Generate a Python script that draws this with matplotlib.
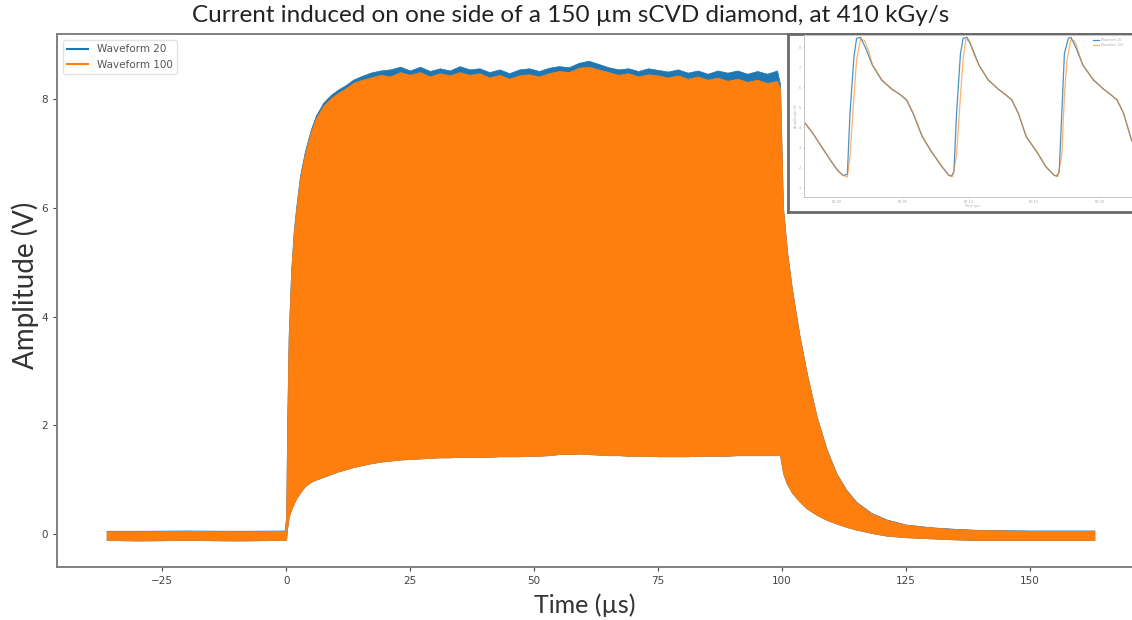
import numpy as np
import matplotlib
matplotlib.use('Agg')
import matplotlib.pyplot as plt
from matplotlib.lines import Line2D

# envelope of the two waveforms (time in us, amplitude in V)
t_env = [-36.2, -30, -20, -10, -0.3, 0.0, 0.2, 0.5, 1.0, 1.5, 2.0, 2.8, 3.8, 5.0, 6.0,
         7.5, 9.0, 10.5, 12.0, 13.5, 15, 17, 19, 21, 23, 25, 27, 29, 31, 33, 35, 37,
         39, 41, 43, 45, 47, 49, 51, 53, 55, 57, 59, 61, 63, 65, 67, 69, 71, 73, 75,
         77, 79, 81, 83, 85, 87, 89, 91, 93, 95, 97, 99, 99.6, 100.2, 101, 102, 103.5,
         105, 107, 109, 111, 113, 115, 118, 121, 125, 130, 135, 140, 150, 163]

wf100_upper = [0.05, 0.05, 0.06, 0.05, 0.06, 0.3, 2.0, 3.6, 4.8, 5.5, 5.95, 6.55, 7.0, 7.4, 7.65,
               7.88, 8.02, 8.12, 8.2, 8.3, 8.35, 8.4, 8.45, 8.42, 8.5, 8.45, 8.5, 8.42, 8.48, 8.44, 8.5, 8.45,
               8.48, 8.4, 8.45, 8.38, 8.44, 8.46, 8.42, 8.48, 8.52, 8.5, 8.58, 8.6, 8.55, 8.5, 8.45, 8.48, 8.42, 8.46, 8.44,
               8.4, 8.44, 8.38, 8.42, 8.36, 8.4, 8.34, 8.38, 8.32, 8.36, 8.3, 8.34, 8.2, 6.0, 5.2, 4.5, 3.65,
               2.95, 2.15, 1.55, 1.1, 0.8, 0.58, 0.38, 0.26, 0.17, 0.12, 0.09, 0.07, 0.06, 0.06]

wf20_upper = [0.06, 0.06, 0.065, 0.06, 0.065, 0.33, 2.05, 3.65, 4.85, 5.55, 6.0, 6.6, 7.05, 7.45, 7.7,
              7.94, 8.08, 8.18, 8.26, 8.36, 8.42, 8.49, 8.53, 8.55, 8.6, 8.53, 8.6, 8.52, 8.57, 8.53, 8.61, 8.55,
              8.57, 8.5, 8.55, 8.48, 8.55, 8.57, 8.52, 8.58, 8.61, 8.59, 8.67, 8.71, 8.65, 8.59, 8.55, 8.57, 8.52, 8.57, 8.54,
              8.51, 8.55, 8.49, 8.53, 8.47, 8.53, 8.49, 8.53, 8.47, 8.52, 8.47, 8.53, 8.28, 6.02, 5.22, 4.52, 3.67,
              2.96, 2.16, 1.56, 1.11, 0.81, 0.59, 0.39, 0.27, 0.175, 0.125, 0.095, 0.075, 0.065, 0.065]

lower = [-0.11, -0.12, -0.11, -0.12, -0.11, -0.1, 0.1, 0.3, 0.45, 0.55, 0.65, 0.76, 0.88, 0.96, 1.0,
         1.05, 1.1, 1.15, 1.19, 1.23, 1.26, 1.3, 1.33, 1.35, 1.37, 1.38, 1.39, 1.4, 1.41, 1.41, 1.42, 1.42,
         1.42, 1.42, 1.43, 1.43, 1.43, 1.44, 1.44, 1.45, 1.47, 1.47, 1.48, 1.47, 1.46, 1.45, 1.45, 1.44, 1.44, 1.44, 1.43,
         1.43, 1.43, 1.43, 1.44, 1.44, 1.44, 1.44, 1.45, 1.45, 1.45, 1.45, 1.45, 1.45, 1.12, 0.92, 0.76, 0.6,
         0.47, 0.35, 0.26, 0.19, 0.13, 0.08, 0.02, -0.03, -0.06, -0.08, -0.1, -0.11, -0.11, -0.11]

# zoomed inset (time in us, amplitude in V)
ins_t20 = [59.976, 59.981, 59.986, 59.991, 59.996, 60.001, 60.005, 60.008, 60.010, 60.013, 60.015, 60.018,
           60.022, 60.027, 60.034, 60.042, 60.048, 60.053, 60.058, 60.065, 60.072, 60.080, 60.085, 60.087,
           60.089, 60.091, 60.094, 60.096, 60.099, 60.103, 60.108, 60.115, 60.123, 60.128, 60.133, 60.138,
           60.144, 60.152, 60.159, 60.165, 60.167, 60.169, 60.171, 60.173, 60.176, 60.178, 60.182, 60.187,
           60.195, 60.203, 60.208, 60.213, 60.218, 60.224, 60.230]
ins_v20 = [4.2, 3.78, 3.28, 2.78, 2.28, 1.83, 1.6, 1.67, 4.7, 7.53, 8.45, 8.5,
           7.95, 7.12, 6.37, 5.9, 5.65, 5.37, 4.7, 3.53, 2.78, 2.03, 1.62, 1.57,
           1.78, 4.7, 7.7, 8.45, 8.5, 7.95, 7.12, 6.37, 5.9, 5.65, 5.37, 4.7,
           3.53, 2.78, 2.03, 1.62, 1.57, 1.78, 4.7, 7.7, 8.45, 8.5, 7.95, 7.12,
           6.37, 5.9, 5.65, 5.37, 4.7, 3.37, 2.7]

ins_t100 = [59.976, 59.981, 59.986, 59.991, 59.996, 60.001, 60.005, 60.008, 60.010, 60.013, 60.015, 60.018,
            60.021, 60.024, 60.027, 60.034, 60.042, 60.048, 60.053, 60.058, 60.065, 60.072, 60.080, 60.085,
            60.088, 60.091, 60.094, 60.096, 60.098, 60.101, 60.104, 60.108, 60.115, 60.123, 60.128, 60.133,
            60.138, 60.144, 60.152, 60.159, 60.165, 60.168, 60.171, 60.173, 60.175, 60.178, 60.181, 60.184,
            60.187, 60.195, 60.203, 60.208, 60.213, 60.218, 60.224, 60.230]
ins_v100 = [4.2, 3.78, 3.28, 2.78, 2.28, 1.83, 1.6, 1.53, 2.53, 5.53, 7.37, 8.4,
            8.35, 7.85, 7.15, 6.4, 5.92, 5.65, 5.4, 4.72, 3.55, 2.8, 2.05, 1.62,
            1.55, 2.6, 5.6, 7.4, 8.4, 8.3, 7.7, 7.1, 6.4, 5.9, 5.65, 5.4,
            4.72, 3.55, 2.8, 2.05, 1.62, 1.55, 2.6, 5.6, 7.4, 8.4, 8.3, 7.7,
            7.12, 6.4, 5.9, 5.65, 5.4, 4.72, 3.37, 2.7]

title = 'Current induced on one side of a 150 \u00b5m sCVD diamond, at 410 kGy/s'

fig = plt.figure(figsize=(11.32, 6.2), dpi=100)

# main plot
ax = fig.add_axes([0.0504, 0.0861, 0.9602, 0.859])
ax.fill_between(t_env, lower, wf20_upper, color='#1f77b4', linewidth=0.5, edgecolor='#1f77b4')
ax.fill_between(t_env, lower, wf100_upper, color='#ff7f0e', linewidth=0.5, edgecolor='#ff7f0e')
ax.set_xlim(-46.2, 173)
ax.set_ylim(-0.6, 9.2)
ax.set_xticks([-25, 0, 25, 50, 75, 100, 125, 150])
ax.set_yticks([0, 2, 4, 6, 8])
ax.tick_params(labelsize=7.5, colors='#444444', length=3, width=0.8)
for s in ax.spines.values():
    s.set_color('#808080')
    s.set_linewidth(1.4)

handles = [Line2D([], [], color='#1f77b4', lw=1.5), Line2D([], [], color='#ff7f0e', lw=1.5)]
leg = ax.legend(handles, ['Waveform 20', 'Waveform 100'], loc='upper left', fontsize=7.5,
                frameon=True, borderaxespad=0.6)
leg.get_frame().set_edgecolor('#dddddd')
for txt in leg.get_texts():
    txt.set_color('#555555')

fig.text(0.504, 0.975, title, ha='center', va='center', fontsize=17.5, family='Lato', color='#222222')
fig.text(0.022, 0.539, 'Amplitude (V)', ha='center', va='center', rotation=90, fontsize=20,
         family='Lato', color='#333333')
fig.text(0.517, 0.024, 'Time (\u00b5s)', ha='center', va='center', fontsize=18, family='Lato', color='#333333')

# inset frame (pasted zoom)
frame = fig.add_axes([0.6961, 0.658, 0.32, 0.2871])
frame.set_xticks([])
frame.set_yticks([])
for s in frame.spines.values():
    s.set_color('#6a6a6a')
    s.set_linewidth(2.0)

ins = fig.add_axes([0.7102, 0.6823, 0.2968, 0.2613])
ins.plot(ins_t20, ins_v20, color='#1f77b4', lw=0.9, alpha=0.8, label='Waveform 20')
ins.plot(ins_t100, ins_v100, color='#ff7f0e', lw=0.9, alpha=0.6, label='Waveform 100')
ins.set_xlim(59.975, 60.2304)
ins.set_ylim(0.53, 8.62)
ins.set_xticks([60.00, 60.05, 60.10, 60.15, 60.20])
ins.set_xticklabels(['60.00', '60.05', '60.10', '60.15', '60.20'])
ins.set_yticks([1, 2, 3, 4, 5, 6, 7, 8])
ins.tick_params(labelsize=2.5, colors='#aaaaaa', length=1, width=0.4, pad=1)
ins.set_xlabel('Time (\u00b5s)', fontsize=2.5, color='#aaaaaa', labelpad=0.5)
ins.set_ylabel('Amplitude (V)', fontsize=2.5, color='#aaaaaa', labelpad=0.5)
for s in ins.spines.values():
    s.set_color('#bbbbbb')
    s.set_linewidth(0.6)
ileg = ins.legend(loc='upper right', bbox_to_anchor=(0.96, 1.0), fontsize=2.2, frameon=False,
                  handlelength=2)
for txt in ileg.get_texts():
    txt.set_color('#aaaaaa')

plt.savefig('out.png', dpi=100)
